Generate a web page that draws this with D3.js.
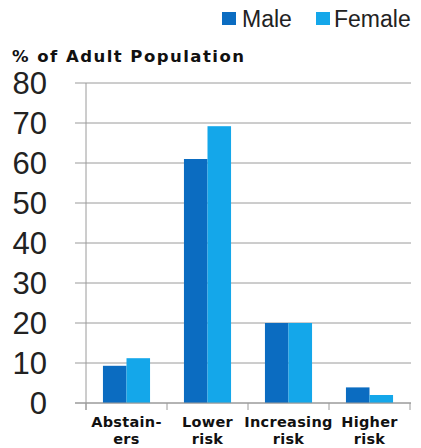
<!DOCTYPE html>
<html>
<head>
<meta charset="utf-8">
<script src="https://cdn.jsdelivr.net/npm/d3@7"></script>
<style>
  body { margin: 0; background: #fff; }
  svg { display: block; }
</style>
</head>
<body>
<svg id="chart" width="421" height="448"></svg>
<script>
const categories = [["Abstain-", "ers"], ["Lower", "risk"], ["Increasing", "risk"], ["Higher", "risk"]];
const series = ["Male", "Female"];
const male = [9.3, 61, 20, 3.9];
const female = [11.2, 69.2, 20, 2];
const yTicks = [0, 10, 20, 30, 40, 50, 60, 70, 80];
const colors = { Male: "#0b6cc1", Female: "#14a7ea" };

const svg = d3.select("#chart");
const plotLeft = 86, plotRight = 410, plotTop = 83, plotBottom = 403;

const x0 = d3.scaleBand().domain(d3.range(categories.length)).range([plotLeft, plotRight]).padding(0);
const x1 = d3.scaleBand().domain(series).range([0, x0.bandwidth()]).paddingInner(0).paddingOuter(0.72);
const y = d3.scaleLinear().domain([0, 80]).range([plotBottom, plotTop]);

// gridlines + y ticks
svg.append("g")
  .selectAll("line")
  .data(yTicks)
  .join("line")
  .attr("x1", plotLeft - 11).attr("x2", plotRight + 1)
  .attr("y1", d => y(d)).attr("y2", d => y(d))
  .attr("stroke", "#9a9a9a").attr("stroke-width", 1);

svg.append("g")
  .selectAll("text")
  .data(yTicks)
  .join("text")
  .attr("x", 47).attr("y", d => y(d))
  .attr("dy", "0.36em")
  .attr("text-anchor", "end")
  .attr("font-family", "Liberation Sans, Arial, sans-serif")
  .attr("font-size", 31)
  .attr("fill", "#222")
  .text(d => d);

// bars
const data = categories.map((c, i) => ({ i, values: [male[i], female[i]] }));
svg.append("g")
  .selectAll("g")
  .data(data)
  .join("g")
  .attr("transform", d => `translate(${x0(d.i)},0)`)
  .selectAll("rect")
  .data(d => d.values.map((v, k) => ({ key: series[k], v })))
  .join("rect")
  .attr("x", d => x1(d.key))
  .attr("width", x1.bandwidth())
  .attr("y", d => y(d.v))
  .attr("height", d => y(0) - y(d.v))
  .attr("fill", d => colors[d.key]);

// axes lines
svg.append("line")
  .attr("x1", plotLeft).attr("x2", plotLeft).attr("y1", plotTop).attr("y2", plotBottom + 7)
  .attr("stroke", "#9a9a9a");
svg.append("line")
  .attr("x1", plotLeft - 11).attr("x2", plotRight + 1).attr("y1", plotBottom).attr("y2", plotBottom)
  .attr("stroke", "#9a9a9a");
svg.append("g")
  .selectAll("line")
  .data(d3.range(categories.length + 1))
  .join("line")
  .attr("x1", d => plotLeft + d * x0.step()).attr("x2", d => plotLeft + d * x0.step())
  .attr("y1", plotBottom).attr("y2", plotBottom + 7)
  .attr("stroke", "#9a9a9a");

// x labels
const xl = svg.append("g")
  .selectAll("text")
  .data(categories)
  .join("text")
  .attr("text-anchor", "middle")
  .attr("font-family", "DejaVu Sans, Verdana, sans-serif")
  .attr("font-weight", "bold")
  .attr("font-size", 14.5)
  .attr("letter-spacing", 0.3)
  .attr("fill", "#111");
xl.each(function(d, i) {
  const cx = x0(i) + x0.bandwidth() / 2;
  d3.select(this).selectAll("tspan")
    .data(d)
    .join("tspan")
    .attr("x", cx)
    .attr("y", (t, k) => 427 + k * 17)
    .text(t => t);
});

// y title
svg.append("text")
  .attr("x", 12).attr("y", 62)
  .attr("font-family", "DejaVu Sans, Verdana, sans-serif")
  .attr("font-weight", "bold")
  .attr("font-size", 16.5)
  .attr("textLength", 232)
  .attr("lengthAdjust", "spacing")
  .attr("fill", "#111")
  .text("% of Adult Population");

// legend
const legend = [
  { key: "Male", sx: 222, tx: 242 },
  { key: "Female", sx: 316, tx: 334 }
];
const lg = svg.append("g");
lg.selectAll("rect")
  .data(legend)
  .join("rect")
  .attr("x", d => d.sx).attr("y", 12)
  .attr("width", 14).attr("height", 13)
  .attr("fill", d => colors[d.key]);
lg.selectAll("text")
  .data(legend)
  .join("text")
  .attr("x", d => d.tx).attr("y", 27)
  .attr("font-family", "Liberation Sans, Arial, sans-serif")
  .attr("font-size", 23)
  .attr("fill", "#222")
  .text(d => d.key);
</script>
</body>
</html>
